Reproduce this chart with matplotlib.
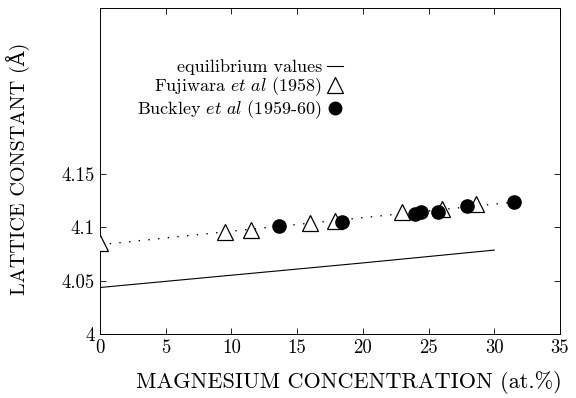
import numpy as np
import matplotlib
matplotlib.use('Agg')
import matplotlib.pyplot as plt
from matplotlib.lines import Line2D

# Data
fuji_x = [0.0, 9.5, 11.5, 16.0, 17.9, 22.95, 26.0, 28.6]
fuji_y = [4.085, 4.0956, 4.097, 4.1037, 4.106, 4.114, 4.117, 4.122]
buck_x = [13.6, 18.4, 24.0, 24.4, 25.7, 27.9, 31.5]
buck_y = [4.101, 4.105, 4.112, 4.114, 4.114, 4.120, 4.1237]
eq_x = [0, 10, 20, 30]
eq_y = [4.0435, 4.055, 4.0665, 4.0785]
x_ticks = [0, 5, 10, 15, 20, 25, 30, 35]
y_ticks = [4.0, 4.05, 4.1, 4.15]
y_tick_labels = ['4', '4.05', '4.1', '4.15']

plt.rcParams['font.family'] = ['cmr10', 'DejaVu Serif']
plt.rcParams['mathtext.fontset'] = 'cm'
plt.rcParams['axes.formatter.use_mathtext'] = True

fig = plt.figure(figsize=(5.76, 3.98), dpi=100)
ax = fig.add_axes([100/576, 1-334/398, 460/576, 326/398])

# dotted trend line through all measured points
all_x = np.array(fuji_x + buck_x)
all_y = np.array(fuji_y + buck_y)
p = np.polyfit(all_x, all_y, 1)
xl = np.array([all_x.min(), all_x.max()])
ax.plot(xl, np.polyval(p, xl), color='black', lw=1.0, ls=(0, (1, 6)), zorder=1)

ax.plot(eq_x, eq_y, color='black', lw=0.8, zorder=2)
ax.plot(fuji_x, fuji_y, ls='none', marker='^', ms=12, mfc='white', mec='black', mew=0.9, zorder=3)
ax.plot(buck_x, buck_y, ls='none', marker='o', ms=9.5, mfc='black', mec='black', zorder=4)

ax.set_xlim(0, 35)
ax.set_ylim(4.0, 4.305)
ax.set_xticks(x_ticks)
ax.set_xticklabels([str(t) for t in x_ticks])
ax.set_yticks(y_ticks)
ax.set_yticklabels(y_tick_labels)
ax.tick_params(direction='in', top=True, right=True, labeltop=False, labelright=False,
               length=4, width=0.6, labelsize=13.5, pad=4)
for s in ax.spines.values():
    s.set_linewidth(0.7)

ax.set_xlabel('MAGNESIUM CONCENTRATION (at.%)', fontsize=16)
ax.xaxis.set_label_coords(0.541, -0.115)
ax.set_ylabel('LATTICE CONSTANT (Å)', fontsize=14.5)
ax.yaxis.set_label_coords(-0.152, 0.506)

handles = [
    Line2D([], [], color='black', lw=0.8),
    Line2D([], [], ls='none', marker='^', ms=11, mfc='white', mec='black', mew=0.9),
    Line2D([], [], ls='none', marker='o', ms=9, mfc='black', mec='black'),
]
labels = ['equilibrium values',
          r'Fujiwara $et\ al$ (1958)',
          r'Buckley $et\ al$ (1959-60)']
leg = ax.legend(handles, labels, loc='upper right', bbox_to_anchor=(0.545, 0.865),
                markerfirst=False, frameon=False, fontsize=13, handlelength=0.9,
                handletextpad=0.3, labelspacing=0.02, borderaxespad=0)

fig.savefig('out.png', dpi=100)
